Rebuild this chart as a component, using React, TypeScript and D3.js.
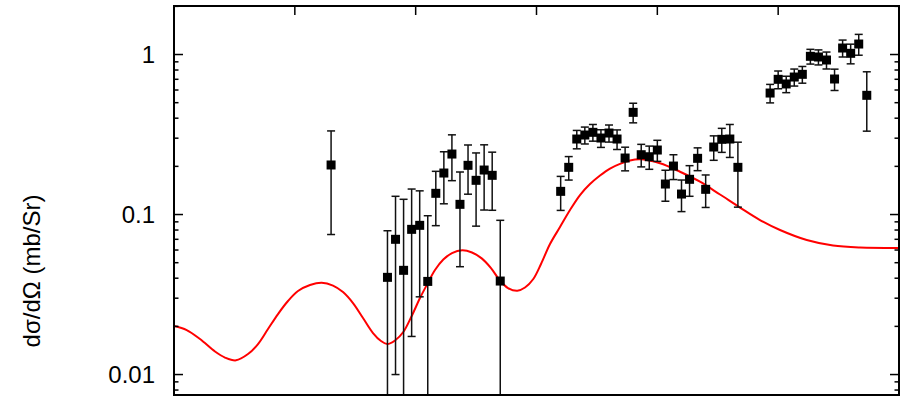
import React, { useEffect, useRef } from "react";
import * as d3 from "d3";

// Measured angular distribution (degrees), cross section and its error (mb/Sr)
const angles = [
  39,
  53, 55, 57, 59, 61, 63, 65, 67, 69, 71, 73, 75, 77, 79, 81,
  96, 98, 100, 102, 104, 106, 108, 110, 112, 114, 116, 118, 120, 122, 124, 126, 128, 130, 132, 134, 136, 138, 140,
  148, 150, 152, 154, 156, 158, 160, 162, 164, 166, 168, 170, 172,
];
const crossSections = [
  0.204,
  0.0405, 0.07, 0.0448, 0.0808, 0.0856, 0.0382, 0.1357, 0.1817, 0.2388, 0.1158, 0.203, 0.1636, 0.1897, 0.1758, 0.0384,
  0.1396, 0.1972, 0.2964, 0.314, 0.3264, 0.3007, 0.3231, 0.2964, 0.2255, 0.4351, 0.2365, 0.2297, 0.253, 0.1551, 0.2009, 0.1343, 0.166, 0.2245, 0.1437, 0.2642, 0.2951, 0.2964, 0.1972,
  0.5745, 0.6998, 0.6546, 0.7232, 0.7519, 0.9744, 0.9647, 0.924, 0.703, 1.098, 1.0174, 1.163, 0.5559,
];
const errors = [
  0.129,
  0.0387, 0.06, 0.0797, 0.0635, 0.055, 0.0601, 0.0505, 0.065, 0.076, 0.0686, 0.069, 0.079, 0.083, 0.0695, 0.0536,
  0.0335, 0.033, 0.039, 0.038, 0.039, 0.038, 0.0395, 0.0415, 0.038, 0.061, 0.038, 0.038, 0.038, 0.034, 0.0355, 0.03, 0.036, 0.0365, 0.033, 0.046, 0.0505, 0.069, 0.086,
  0.076, 0.089, 0.077, 0.088, 0.09, 0.103, 0.104, 0.112, 0.107, 0.133, 0.143, 0.173, 0.224,
];

// Calculated cross section
const curveAngles = [
  0, 3.153, 6.455, 10.179, 12.662, 15.393, 18.372, 20.855, 23.338, 25.821, 28.303, 30.786, 33.766, 36.671,
  39.476, 41.959, 44.442, 46.924, 49.407, 51.393, 52.958, 54.869, 56.93, 59.016, 61.076, 62.889, 64.8, 66.861,
  69.021, 71.578, 73.986, 76.395, 78.704, 81.013, 82.924, 85.234, 87.145, 89.206, 91.118, 93.352, 95.835, 98.318,
  100.8, 103.28, 105.77, 108.25, 110.73, 113.21, 115.7, 120.66, 125.63, 130.59, 135.56, 140.52, 145.49, 150.46,
  157.09, 163.62, 170.32, 180,
];
const curveValues = [
  0.02009, 0.01897, 0.01667, 0.01392, 0.01277, 0.01227, 0.01343, 0.01551, 0.01925, 0.02388, 0.0288, 0.03325,
  0.03626, 0.03748, 0.03599, 0.03278, 0.02797, 0.02255, 0.01817, 0.0162, 0.01551, 0.01632, 0.01844, 0.02321,
  0.03007, 0.03679, 0.04498, 0.05233, 0.05746, 0.05973, 0.05787, 0.05323, 0.04629, 0.03841, 0.03472, 0.0334,
  0.03497, 0.03953, 0.04904, 0.0654, 0.08354, 0.10669, 0.13234, 0.15509, 0.17528, 0.19387, 0.20743, 0.21752,
  0.22131, 0.20893, 0.18513, 0.16032, 0.13335, 0.11058, 0.09241, 0.08, 0.06928, 0.064, 0.06218, 0.06174,
];

const yMajorTicks = [0.01, 0.1, 1];
const yTickLabels = ["0.01", "0.1", "1"];
const topTicks = [30, 60, 90, 120, 150];
const yLabel = "dσ/dΩ (mb/Sr)";

const W = 902;
const H = 396;
const left = 174;
const right = 899;
const top = 6;
const bottom = 395;

export default function App() {
  const ref = useRef<SVGSVGElement>(null);

  useEffect(() => {
    const svg = d3.select(ref.current);
    svg.selectAll("*").remove();

    const x = d3.scaleLinear().domain([0, 180]).range([left, right]);
    const y = d3.scaleLog().domain([0.00745, 2.01]).range([bottom, top]);

    svg
      .append("defs")
      .append("clipPath")
      .attr("id", "plot-clip")
      .append("rect")
      .attr("x", left)
      .attr("y", top)
      .attr("width", right - left)
      .attr("height", bottom - top);

    const plot = svg.append("g").attr("clip-path", "url(#plot-clip)");

    // theory curve
    const pts = curveAngles.map((a, i) => [a, curveValues[i]] as [number, number]);
    plot
      .append("path")
      .datum(pts)
      .attr("fill", "none")
      .attr("stroke", "#ff0000")
      .attr("stroke-width", 2)
      .attr(
        "d",
        d3
          .line<[number, number]>()
          .x((d) => x(d[0]))
          .y((d) => y(d[1]))
          .curve(d3.curveCatmullRom.alpha(0.5))
      );

    // error bars
    const floor = 1e-4;
    const bars = plot.append("g").attr("stroke", "#111").attr("stroke-width", 1.5);
    angles.forEach((a, i) => {
      const v = crossSections[i];
      const e = errors[i];
      const hi = v + e;
      const lo = Math.max(v - e, floor);
      const cx = x(a);
      bars.append("line").attr("x1", cx).attr("x2", cx).attr("y1", y(hi)).attr("y2", y(lo));
      bars.append("line").attr("x1", cx - 4).attr("x2", cx + 4).attr("y1", y(hi)).attr("y2", y(hi));
      if (v - e > floor) {
        bars.append("line").attr("x1", cx - 4).attr("x2", cx + 4).attr("y1", y(lo)).attr("y2", y(lo));
      }
    });

    // markers
    const s = 9;
    plot
      .append("g")
      .selectAll("rect")
      .data(angles)
      .join("rect")
      .attr("x", (d) => x(d) - s / 2)
      .attr("y", (_d, i) => y(crossSections[i]) - s / 2)
      .attr("width", s)
      .attr("height", s)
      .attr("fill", "#000");

    // frame
    svg
      .append("rect")
      .attr("x", left)
      .attr("y", top)
      .attr("width", right - left)
      .attr("height", bottom - top)
      .attr("fill", "none")
      .attr("stroke", "#000")
      .attr("stroke-width", 2);

    const axes = svg.append("g").attr("stroke", "#000").attr("stroke-width", 1.5);

    // log ticks on left and right
    const [d0, d1] = y.domain();
    for (let p = -3; p <= 1; p++) {
      for (let m = 1; m <= 9; m++) {
        const v = m * Math.pow(10, p);
        if (v < d0 || v > d1) continue;
        const len = m === 1 ? 9 : 4.5;
        const yy = y(v);
        axes.append("line").attr("x1", left).attr("x2", left + len).attr("y1", yy).attr("y2", yy);
        axes.append("line").attr("x1", right).attr("x2", right - len).attr("y1", yy).attr("y2", yy);
      }
    }

    // top ticks
    topTicks.forEach((t) => {
      axes.append("line").attr("x1", x(t)).attr("x2", x(t)).attr("y1", top).attr("y2", top + 9);
    });

    // y tick labels
    svg
      .append("g")
      .selectAll("text")
      .data(yMajorTicks)
      .join("text")
      .attr("x", left - 19)
      .attr("y", (d) => y(d))
      .attr("dy", "0.36em")
      .attr("text-anchor", "end")
      .attr("font-family", "Liberation Sans, Arial, Helvetica, sans-serif")
      .attr("font-size", 24)
      .attr("fill", "#000")
      .text((_d, i) => yTickLabels[i]);

    // y axis title
    svg
      .append("text")
      .attr("transform", `translate(40,271) rotate(-90)`)
      .attr("text-anchor", "middle")
      .attr("font-family", "Liberation Sans, Arial, Helvetica, sans-serif")
      .attr("font-size", 24)
      .attr("fill", "#000")
      .text(yLabel);
  }, []);

  return (
    <svg
      ref={ref}
      width={W}
      height={H}
      style={{ position: "fixed", left: 0, top: 0, background: "#fff" }}
    />
  );
}
